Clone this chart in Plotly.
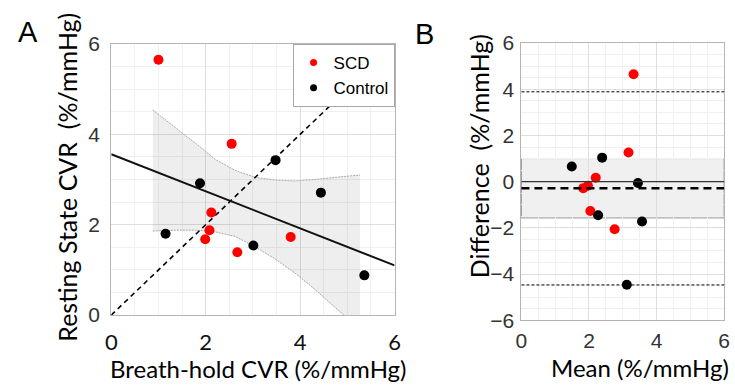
import plotly.graph_objects as go

# ---- Panel A data (Breath-hold CVR vs Resting State CVR) ----
scd_bh = [1.00, 2.55, 2.12, 2.08, 1.99, 2.67, 3.80]
scd_rs = [5.65, 3.79, 2.27, 1.88, 1.68, 1.39, 1.73]
ctl_bh = [1.88, 1.15, 3.01, 3.48, 4.44, 5.36]
ctl_rs = [2.92, 1.80, 1.54, 3.43, 2.71, 0.88]

fit_x = [0, 6]
fit_y = [3.56, 1.10]
identity_x = [0, 6]
identity_y = [0, 6]

band_x = [0.88, 1.38, 1.80, 2.21, 2.63, 3.05, 3.46, 3.88, 4.30, 4.85, 5.27]
band_upper = [4.54, 4.14, 3.79, 3.44, 3.20, 3.05, 2.99, 2.97, 3.00, 3.06, 3.10]
band_lower = [1.86, 1.88, 1.88, 1.84, 1.74, 1.51, 1.25, 0.94, 0.58, 0.06, -0.32]

# ---- Panel B data (Bland-Altman) ----
scd_mean = [3.32, 3.17, 2.20, 1.97, 1.83, 2.04, 2.76]
scd_diff = [4.65, 1.26, 0.17, -0.18, -0.28, -1.27, -2.06]
ctl_mean = [1.49, 2.39, 2.27, 3.45, 3.57, 3.12]
ctl_diff = [0.66, 1.04, -1.45, -0.06, -1.72, -4.46]

b_zero = 0.0
b_bias = -0.28
b_loa = [-4.47, 3.89]
b_ci = [-1.57, 1.00]

ticks = [0, 2, 4, 6]
b_yticks = [-6, -4, -2, 0, 2, 4, 6]

RED = "#ff0000"
BLACK = "#000000"
TICKFONT = dict(family="Liberation Sans, Arial", size=21, color="#333333")
TITLEFONT = dict(family="Lato", size=24, color="#000000")

fig = go.Figure()

# band polygon
fig.add_trace(go.Scatter(
    x=band_x + band_x[::-1], y=band_upper + band_lower[::-1],
    fill="toself", fillcolor="rgba(0,0,0,0.065)", line=dict(width=0),
    mode="lines", showlegend=False, hoverinfo="skip", xaxis="x", yaxis="y"))
for yy in (band_upper, band_lower):
    fig.add_trace(go.Scatter(x=band_x, y=yy, mode="lines",
                             line=dict(color="#a8a8a8", width=1, dash="2px,1px"),
                             showlegend=False, hoverinfo="skip", xaxis="x", yaxis="y"))
fig.add_trace(go.Scatter(x=identity_x, y=identity_y, mode="lines",
                         line=dict(color=BLACK, width=1.6, dash="5px,4px"),
                         showlegend=False, xaxis="x", yaxis="y"))
fig.add_trace(go.Scatter(x=fit_x, y=fit_y, mode="lines",
                         line=dict(color="#111111", width=2),
                         showlegend=False, xaxis="x", yaxis="y"))
fig.add_trace(go.Scatter(x=scd_bh, y=scd_rs, mode="markers",
                         marker=dict(color=RED, size=10, line=dict(width=0)),
                         showlegend=False, xaxis="x", yaxis="y"))
fig.add_trace(go.Scatter(x=ctl_bh, y=ctl_rs, mode="markers",
                         marker=dict(color=BLACK, size=10, line=dict(width=0)),
                         showlegend=False, xaxis="x", yaxis="y"))
# legend entries
fig.add_trace(go.Scatter(x=[None], y=[None], mode="markers", name="SCD",
                         marker=dict(color=RED, size=7), xaxis="x", yaxis="y"))
fig.add_trace(go.Scatter(x=[None], y=[None], mode="markers", name="Control",
                         marker=dict(color=BLACK, size=7), xaxis="x", yaxis="y"))

# Panel B
fig.add_trace(go.Scatter(x=scd_mean, y=scd_diff, mode="markers",
                         marker=dict(color=RED, size=10, line=dict(width=0)),
                         showlegend=False, xaxis="x2", yaxis="y2"))
fig.add_trace(go.Scatter(x=ctl_mean, y=ctl_diff, mode="markers",
                         marker=dict(color=BLACK, size=10, line=dict(width=0)),
                         showlegend=False, xaxis="x2", yaxis="y2"))

shapes = [
    dict(type="rect", xref="x2 domain", yref="y2", x0=0, x1=1, y0=b_ci[0], y1=b_ci[1],
         fillcolor="rgba(0,0,0,0.06)", line=dict(color="#9a9a9a", width=1), layer="below"),
    dict(type="line", xref="x2 domain", yref="y2", x0=0, x1=1, y0=b_zero, y1=b_zero,
         line=dict(color="#333333", width=1.2)),
    dict(type="line", xref="x2 domain", yref="y2", x0=0, x1=1, y0=b_bias, y1=b_bias,
         line=dict(color="#000000", width=2.5, dash="8px,5px")),
    dict(type="line", xref="x2 domain", yref="y2", x0=0, x1=1, y0=b_loa[0], y1=b_loa[0],
         line=dict(color="#000000", width=1, dash="3px,2px")),
    dict(type="line", xref="x2 domain", yref="y2", x0=0, x1=1, y0=b_loa[1], y1=b_loa[1],
         line=dict(color="#000000", width=1, dash="3px,2px")),
]

W, H = 735, 392
def px(x): return x / W
def py(y): return 1 - y / H

axis_common = dict(showline=True, mirror=True, linecolor="#b5b5b5", linewidth=1,
                   showgrid=True, gridcolor="#dedede", gridwidth=1, zeroline=False,
                   ticks="", tickfont=TICKFONT,
                   minor=dict(dtick=0.5, showgrid=True, gridcolor="#f0f0f0", gridwidth=1))

def ann(text, x, y, font, angle=0):
    return dict(text=text, x=px(x), y=py(y), xref="paper", yref="paper", showarrow=False,
                xanchor="center", yanchor="middle", textangle=angle, font=font)

fig.update_layout(
    width=W, height=H, margin=dict(l=0, r=0, t=0, b=0),
    paper_bgcolor="white", plot_bgcolor="white",
    showlegend=True,
    legend=dict(x=px(395), y=py(34), xanchor="right", yanchor="top",
                bgcolor="white", bordercolor="#a8a8a8", borderwidth=1,
                font=dict(family="Liberation Sans, Arial", size=17, color="#000"),
                tracegroupgap=0, itemwidth=30),
    xaxis=dict(domain=[px(107), px(395)], range=[0, 6], tickvals=ticks,
               anchor="y", ticklabelstandoff=7, **{k: v for k, v in axis_common.items() if k != "tickfont"},
               tickfont=dict(family="Lato", size=22, color="#111111")),
    yaxis=dict(domain=[py(322), py(34)], range=[0, 6], tickvals=ticks,
               anchor="x", ticklabelstandoff=6, **axis_common),
    xaxis2=dict(domain=[px(524), px(730)], range=[0, 6], tickvals=ticks,
                anchor="y2", ticklabelstandoff=2, **axis_common),
    yaxis2=dict(domain=[py(327.5), py(33)], range=[-6, 6], tickvals=b_yticks,
                anchor="x2", ticklabelstandoff=2, **axis_common),
    shapes=shapes,
    annotations=[
        ann("A", 22, 21, dict(family="Liberation Sans, Arial", size=29, color="#000")),
        ann("B", 425, 23, dict(family="Liberation Sans, Arial", size=29, color="#000")),
        ann("Breath-hold CVR (%/mmHg)", 256, 379, TITLEFONT),
        ann("Mean (%/mmHg)", 645, 378, TITLEFONT),
        ann("Resting State CVR\u00a0 (%/mmHg)", 62, 175, dict(family="Lato", size=25, color="#000"), -90),
        ann("Difference\u00a0 (%/mmHg)", 481, 153, dict(family="Lato", size=25, color="#000"), -90),
    ],
)

fig.write_html("out.html")
